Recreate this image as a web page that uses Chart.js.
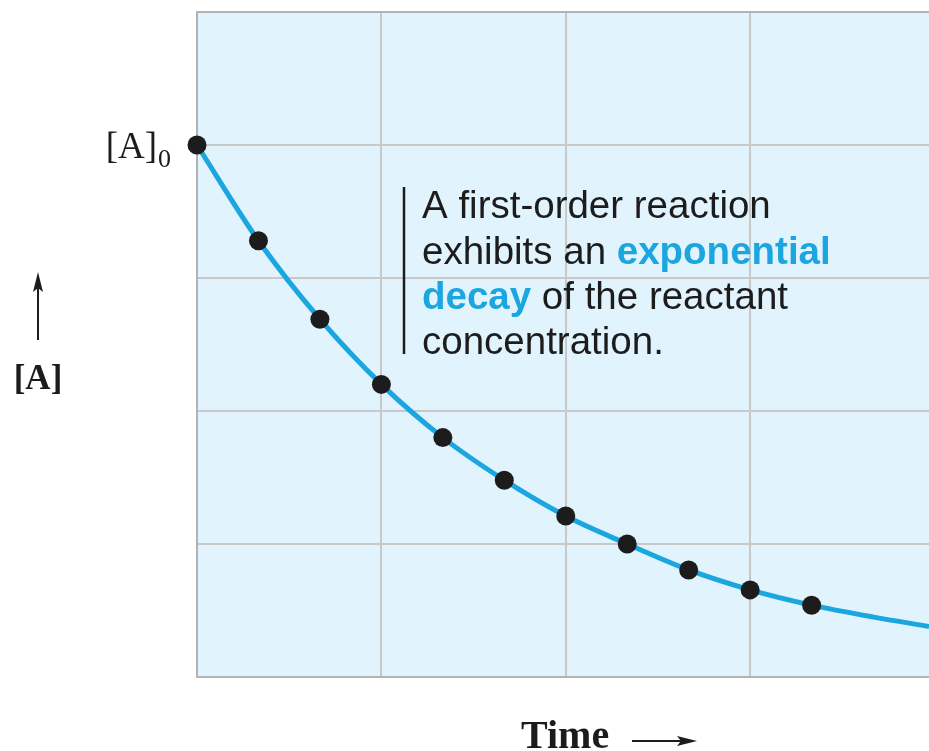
<!DOCTYPE html>
<html>
<head>
<meta charset="utf-8">
<title>First-order decay</title>
<script src="https://cdn.jsdelivr.net/npm/chart.js@4.4.1/dist/chart.umd.min.js"></script>
<style>
  html, body { margin: 0; padding: 0; background: #ffffff; }
  #wrap { width: 929px; height: 751px; position: relative; }
</style>
</head>
<body>
<div id="wrap"><canvas id="decayChart" width="929" height="751"></canvas></div>
<script>
  // sampled concentrations, equal time steps (1/3 of a grid cell)
  const sampleTimes = [0, 1/3, 2/3, 1, 4/3, 5/3, 2, 7/3, 8/3, 3, 10/3];
  const sampleConc = [4.0, 3.28, 2.69, 2.2, 1.8, 1.48, 1.21, 1.0, 0.805, 0.655, 0.54];

  // smooth curve runs a bit further than the samples
  const curveTimes = [0, 1/3, 2/3, 1, 4/3, 5/3, 2, 7/3, 8/3, 3, 10/3, 3.67, 3.97];
  const curveConc = [4.0, 3.28, 2.69, 2.2, 1.8, 1.48, 1.21, 1.0, 0.805, 0.655, 0.54, 0.45, 0.38];

  const timeMax = 3.97;
  const concMax = 5;

  const blue = '#1ba6e0';
  const ink = '#1c1c1c';

  const toXY = (xs, ys) => xs.map((x, i) => ({ x, y: ys[i] }));

  const figurePlugin = {
    id: 'figureText',
    beforeDraw(chart) {
      const { ctx, chartArea: a } = chart;
      ctx.save();
      ctx.fillStyle = '#e1f3fc';
      ctx.fillRect(a.left, a.top, a.right - a.left, a.bottom - a.top);
      ctx.restore();
    },
    afterDraw(chart) {
      const { ctx } = chart;
      ctx.save();
      ctx.fillStyle = ink;
      ctx.strokeStyle = ink;
      ctx.textBaseline = 'alphabetic';

      // [A]0 label next to the first point
      ctx.font = '37px "Liberation Serif", serif';
      ctx.textAlign = 'right';
      ctx.fillText('[A]', 157, 158);
      ctx.font = '26px "Liberation Serif", serif';
      ctx.textAlign = 'left';
      ctx.fillText('0', 158, 167);

      // y axis label with arrow
      ctx.font = 'bold 35px "Liberation Serif", serif';
      ctx.textAlign = 'center';
      ctx.fillText('[A]', 38, 389);
      ctx.lineWidth = 2;
      ctx.beginPath();
      ctx.moveTo(38, 340);
      ctx.lineTo(38, 284);
      ctx.stroke();
      ctx.beginPath();
      ctx.moveTo(38, 272);
      ctx.lineTo(33, 292);
      ctx.lineTo(38, 288);
      ctx.lineTo(43, 292);
      ctx.closePath();
      ctx.fill();

      // x axis label with arrow
      ctx.font = 'bold 40px "Liberation Serif", serif';
      ctx.textAlign = 'left';
      ctx.fillText('Time', 521, 748);
      ctx.beginPath();
      ctx.moveTo(632, 741);
      ctx.lineTo(686, 741);
      ctx.stroke();
      ctx.beginPath();
      ctx.moveTo(697, 741);
      ctx.lineTo(677, 736);
      ctx.lineTo(681, 741);
      ctx.lineTo(677, 746);
      ctx.closePath();
      ctx.fill();

      // annotation block
      ctx.lineWidth = 2.5;
      ctx.beginPath();
      ctx.moveTo(404, 187);
      ctx.lineTo(404, 354);
      ctx.stroke();

      const regular = '38.5px "Liberation Sans", Arial, sans-serif';
      const bold = 'bold 38.5px "Liberation Sans", Arial, sans-serif';
      const lines = [
        [['A first-order reaction', regular, ink]],
        [['exhibits an ', regular, ink], ['exponential', bold, blue]],
        [['decay', bold, blue], [' of the reactant', regular, ink]],
        [['concentration.', regular, ink]]
      ];
      const baselines = [218, 264, 309, 354];
      lines.forEach((parts, i) => {
        let x = 422;
        parts.forEach(([txt, font, color]) => {
          ctx.font = font;
          ctx.fillStyle = color;
          ctx.fillText(txt, x, baselines[i]);
          x += ctx.measureText(txt).width;
        });
      });
      ctx.restore();
    }
  };

  new Chart(document.getElementById('decayChart'), {
    type: 'scatter',
    data: {
      datasets: [
        {
          label: 'samples',
          data: toXY(sampleTimes, sampleConc),
          pointRadius: 9.5,
          pointHoverRadius: 9.5,
          pointBackgroundColor: ink,
          pointBorderWidth: 0,
          showLine: false,
          clip: false,
          order: 0
        },
        {
          label: 'curve',
          data: toXY(curveTimes, curveConc),
          showLine: true,
          borderColor: blue,
          borderWidth: 5,
          pointRadius: 0,
          cubicInterpolationMode: 'monotone',
          clip: false,
          order: 1
        }
      ]
    },
    options: {
      responsive: false,
      animation: false,
      events: [],
      layout: { autoPadding: false, padding: { left: 197, top: 12, right: 0, bottom: 74 } },
      plugins: {
        legend: { display: false },
        tooltip: { enabled: false }
      },
      scales: {
        x: {
          type: 'linear',
          min: 0,
          max: timeMax,
          ticks: { display: false, stepSize: 1 },
          grid: {
            color: ctx => Number.isInteger(ctx.tick.value) ? '#c8c8c8' : 'rgba(0,0,0,0)',
            lineWidth: 2,
            drawTicks: false
          },
          border: { color: '#b3b3b3', width: 2 },
          afterFit: s => { s.height = 0; }
        },
        y: {
          min: 0,
          max: concMax,
          ticks: { display: false, stepSize: 1 },
          grid: { color: ctx => ctx.tick.value === concMax ? '#b3b3b3' : '#c8c8c8', lineWidth: 2, drawTicks: false },
          border: { color: '#b3b3b3', width: 2 },
          afterFit: s => { s.width = 0; }
        }
      }
    },
    plugins: [figurePlugin]
  });
</script>
</body>
</html>
